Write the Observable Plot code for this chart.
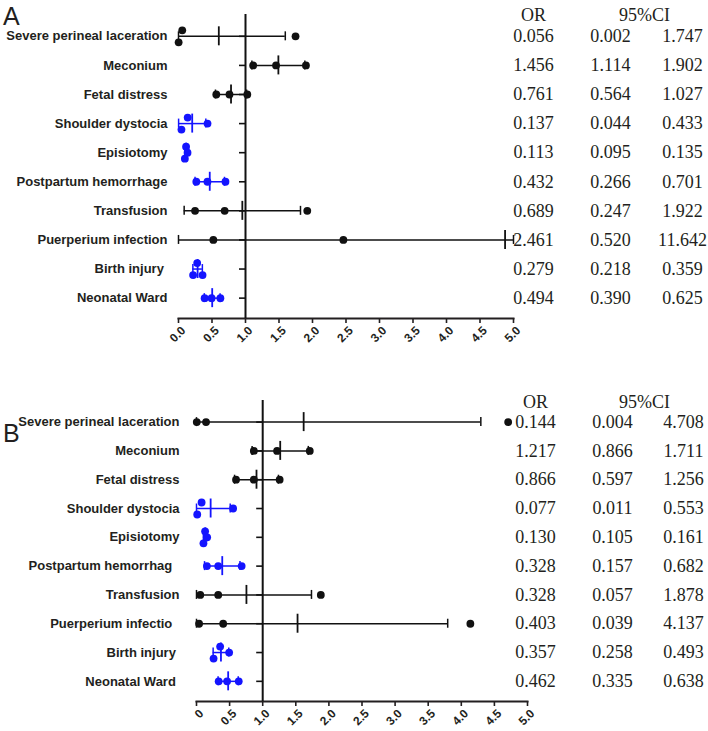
<!DOCTYPE html>
<html>
<head>
<meta charset="utf-8">
<script src="https://cdn.jsdelivr.net/npm/d3@7"></script>
<script src="https://cdn.jsdelivr.net/npm/@observablehq/plot@0.6"></script>
<style>
  html, body { margin: 0; padding: 0; background: #fff; }
  #wrap { position: relative; width: 708px; height: 731px; overflow: hidden; font-family: "Liberation Sans", Arial, sans-serif; color: #231f20; }
  .panel-letter { position: absolute; font-size: 25px; line-height: 1; }
  .chart { position: absolute; left: 0; }
</style>
</head>
<body>
<div id="wrap">
  <div class="chart" id="chartA" style="top:0px"></div>
  <div class="chart" id="chartB" style="top:355px"></div>
  <div class="panel-letter" style="left:3px; top:4px">A</div>
  <div class="panel-letter" style="left:3px; top:421px">B</div>
</div>
<script>
// ---------- data ----------
const rowsA = ["Severe perineal laceration", "Meconium", "Fetal distress", "Shoulder dystocia", "Episiotomy",
  "Postpartum hemorrhage", "Transfusion", "Puerperium infection", "Birth injury\u00a0", "Neonatal Ward"];
const orA = [0.056, 1.456, 0.761, 0.137, 0.113, 0.432, 0.689, 2.461, 0.279, 0.494];
const loA = [0.002, 1.114, 0.564, 0.044, 0.095, 0.266, 0.247, 0.520, 0.218, 0.390];
const hiA = [1.747, 1.902, 1.027, 0.433, 0.135, 0.701, 1.922, 11.642, 0.359, 0.625];

const rowsB = ["Severe perineal laceration", "Meconium", "Fetal distress", "Shoulder dystocia", "Episiotomy",
  "Postpartum hemorrhag\u00a0\u00a0", "Transfusion", "Puerperium infectio\u00a0\u00a0", "Birth injury\u00a0", "Neonatal Ward\u00a0"];
const orB = [0.144, 1.217, 0.866, 0.077, 0.130, 0.328, 0.328, 0.403, 0.357, 0.462];
const loB = [0.004, 0.866, 0.597, 0.011, 0.105, 0.157, 0.057, 0.039, 0.258, 0.335];
const hiB = [4.708, 1.711, 1.256, 0.553, 0.161, 0.682, 1.878, 4.137, 0.493, 0.638];

const tickValues = [0, 0.5, 1, 1.5, 2, 2.5, 3, 3.5, 4, 4.5, 5];
const ticksA = ["0.0", "0.5", "1.0", "1.5", "2.0", "2.5", "3.0", "3.5", "4.0", "4.5", "5.0"];
const ticksB = ["0", "0.5", "1.0", "1.5", "2.0", "2.5", "3.0", "3.5", "4.0", "4.5", "5.0"];
const headers = ["OR", "95%CI"];

// ---------- drawing ----------
const BLUE = "#1414ff", BLACK = "#111";
const fmt = v => v.toFixed(3);
const SERIF = "'Liberation Serif', 'Times New Roman', serif";

function panel(rows, ors, los, his, tickLabels, o) {
  const xmin = 0, xmax = 5;
  const yDomain = [-0.75, 9.7];
  const ppu = (o.width - o.ml - o.mr) / (xmax - xmin);
  const pitch = (o.height - o.mt - o.mb) / (yDomain[1] - yDomain[0]);
  const pu = px => px / pitch;            // pixels -> row units
  const collide = (a, b) => Math.abs(a - b) * ppu < 6.8;

  const stats = rows.map((name, i) => {
    const vals = [ors[i], los[i], his[i]];
    const mean = d3.mean(vals), sd = d3.deviation(vals);
    return {
      i, name, or: ors[i], lo: los[i], hi: his[i], mean,
      x1: Math.max(xmin, mean - sd), x2: Math.min(xmax, mean + sd),
      color: his[i] < 1 ? BLUE : BLACK
    };
  });

  const pts = [];
  for (const s of stats) {
    const cOL = collide(s.or, s.lo), cOH = collide(s.or, s.hi), cLH = collide(s.lo, s.hi);
    const lvOr = (cOL || cOH) ? -1 : 0;
    const lvLo = (cOL || cLH) ? 1 : 0;
    let lvHi = 0;
    if (cOH && !cLH) lvHi = 1; else if (cLH && !cOH) lvHi = -1;
    pts.push({i: s.i, v: s.or, lv: lvOr, color: s.color});
    pts.push({i: s.i, v: s.lo, lv: lvLo, color: s.color});
    pts.push({i: s.i, v: s.hi, lv: lvHi, color: s.color});
  }
  const visiblePts = pts.filter(p => p.v <= xmax);
  const caps = stats.flatMap(s => [{i: s.i, v: s.x1, color: s.color}, {i: s.i, v: s.x2, color: s.color}]);
  const textOpts = {fontFamily: SERIF, fontSize: 18, fill: "#231f20", textAnchor: "middle"};

  return Plot.plot({
    width: o.width, height: o.height,
    marginLeft: o.ml, marginRight: o.mr, marginTop: o.mt, marginBottom: o.mb,
    style: {fontFamily: "'Liberation Sans', Arial, sans-serif", color: "#231f20", background: "transparent", overflow: "visible"},
    x: {domain: [xmin, xmax]},
    y: {domain: yDomain, reverse: true},
    marks: [
      // tick marks only
      Plot.axisX({ticks: tickValues, tickFormat: () => "", tickSize: 5, strokeWidth: 1.6, label: null}),
      // rotated tick labels, nudged right like the reference
      Plot.axisX({ticks: tickValues, tickFormat: (d, k) => tickLabels[k], tickRotate: -45, fontWeight: "bold",
        fontSize: 12, tickSize: 0, tickPadding: 10, dx: 5, label: null}),
      Plot.axisY({ticks: stats.map(s => s.i), tickFormat: k => rows[k], tickSize: 0, tickPadding: o.labelPad,
        fontSize: 13, fontWeight: "bold", label: null}),
      Plot.frame({anchor: "bottom", strokeWidth: 2}),
      Plot.ruleX([1], {strokeWidth: 2, stroke: BLACK}),
      Plot.ruleY(stats, {y: "i", x1: 1 - 6 / ppu, x2: 1, strokeWidth: 1.6, stroke: BLACK}),
      Plot.ruleY(stats, {y: "i", x1: "x1", x2: "x2", stroke: "color", strokeWidth: 1.5}),
      Plot.ruleX(caps, {x: "v", y1: d => d.i - pu(4.5), y2: d => d.i + pu(4.5), stroke: "color", strokeWidth: 1.5}),
      Plot.ruleX(stats, {x: "mean", y1: d => d.i - pu(9.5), y2: d => d.i + pu(9.5), stroke: "color", strokeWidth: 1.8}),
      Plot.dot(visiblePts, {x: "v", y: d => d.i + d.lv * pu(6), r: 3.9, fill: "color", stroke: "none"}),
      // table
      Plot.text([headers[0]], {frameAnchor: "top-right", dx: o.c1, dy: o.hdy, text: d => d, lineAnchor: "middle", ...textOpts}),
      Plot.text([headers[1]], {frameAnchor: "top-right", dx: o.c95, dy: o.hdy, text: d => d, lineAnchor: "middle", ...textOpts}),
      Plot.text(stats, {frameAnchor: "right", y: "i", text: d => fmt(d.or), dx: o.c1, ...textOpts}),
      Plot.text(stats, {frameAnchor: "right", y: "i", text: d => fmt(d.lo), dx: o.c2, ...textOpts}),
      Plot.text(stats, {frameAnchor: "right", y: "i", text: d => fmt(d.hi), dx: o.c3, ...textOpts})
    ]
  });
}

document.getElementById("chartA").append(
  panel(rowsA, orA, loA, hiA, ticksA,
    {width: 708, height: 355, ml: 178, mr: 195, mt: 14, mb: 37, labelPad: 11, c1: 20, c2: 97, c3: 169, c95: 131, hdy: 1}));
document.getElementById("chartB").append(
  panel(rowsB, orB, loB, hiB, ticksB,
    {width: 708, height: 376, ml: 196, mr: 181, mt: 45, mb: 30, labelPad: 17, c1: 8, c2: 85, c3: 156, c95: 117, hdy: 2}));
</script>
</body>
</html>
